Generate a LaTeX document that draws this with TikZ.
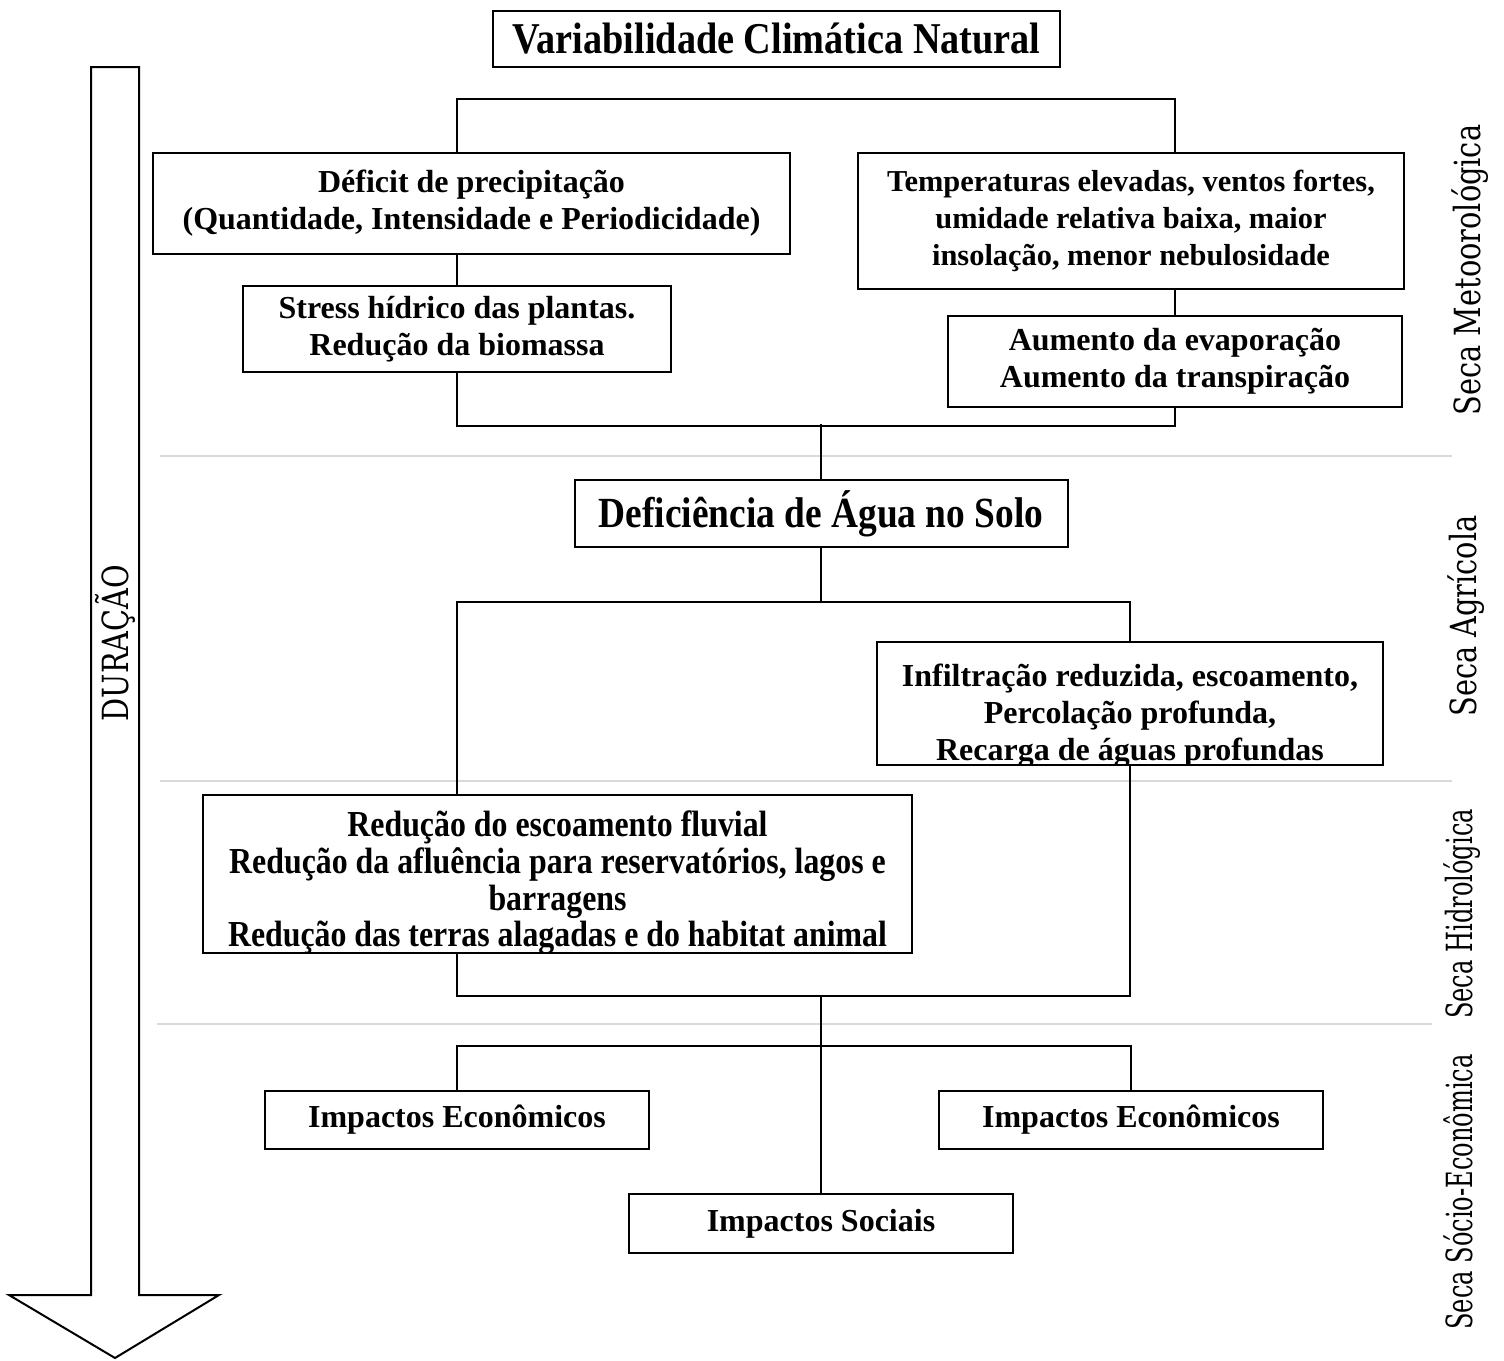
\documentclass[tikz,border=0pt]{standalone}
\usepackage{fontspec}
\setmainfont{Liberation Serif}
\newfontfamily\narrowserif[FakeStretch=0.87]{Liberation Serif}
\newfontfamily\slabserif[FakeStretch=0.8]{DejaVu Serif}
\newfontfamily\slimslab[FakeStretch=0.67]{DejaVu Serif}
\usetikzlibrary{positioning}
\definecolor{Sep}{HTML}{D9D9D9}

\tikzset{
  box/.style={draw,line width=1pt,inner sep=0pt,align=center,font=\bfseries\fontsize{16}{18.5}\selectfont},
  boxw/.style={minimum width=#1*0.5pt},
  boxh/.style={minimum height=#1*0.5pt},
  bigtext/.style={font=\narrowserif\bfseries\fontsize{22}{24}\selectfont},
  link/.style={line width=1pt},
  sep/.style={draw=Sep,line width=1pt},
  side/.style={rotate=90,font=\slabserif\fontsize{18}{20}\selectfont},
  slimside/.style={side,font=\slimslab\fontsize{18}{20}\selectfont},
}

\begin{document}
\begin{tikzpicture}[x=0.5pt,y=-0.5pt]
  \useasboundingbox (0,0) rectangle (1504,1360);

  % separators between drought types
  \draw[sep] (160,456) -- (1452,456);
  \draw[sep] (160,781) -- (1452,781);
  \draw[sep] (157,1024) -- (1432,1024);

  % duration arrow
  \draw[line width=1pt] (91,67) -- (139,67) -- (139,1295) -- (219,1295) -- (115,1358)
    -- (9,1295) -- (91,1295) -- cycle;
  \node[side] (dur) at (115,643) {DURAÇÃO};

  % boxes
  \node[box,boxw=567,boxh=56,bigtext] (nat) at (776.5,39) {Variabilidade Climática Natural};
  \node[box,boxw=637,boxh=101] (prec) at (471.5,203.5) {Déficit de precipitação\\(Quantidade, Intensidade e Periodicidade)};
  \node[box,boxw=546,boxh=136,font=\bfseries\fontsize{15.2}{18.5}\selectfont] (temp) at (1131,221) {Temperaturas elevadas, ventos fortes,\\umidade relativa baixa, maior\\insolação, menor nebulosidade};
  \node[box,boxw=428,boxh=86] (stress) at (457,329) {Stress hídrico das plantas.\\Redução da biomassa};
  \node[box,boxw=454,boxh=91] (evap) at (1175,361.5) {Aumento da evaporação\\Aumento da transpiração};
  \node[box,boxw=493,boxh=67,font=\narrowserif\bfseries\fontsize{21.5}{24}\selectfont] (solo) at (821,513.5) {Deficiência de Água no Solo};
  \node[box,boxw=506,boxh=123,path picture={
    \node[align=center,inner sep=0pt,yshift=-6pt,font=\bfseries\fontsize{16}{18.5}\selectfont]
      at (path picture bounding box.center) {Infiltração reduzida, escoamento,\\Percolação profunda,\\Recarga de águas profundas};}] (infil) at (1130,703.5) {};
  \node[box,boxw=709,boxh=158,path picture={
    \node[align=center,inner sep=0pt,yshift=-4.5pt,font=\narrowserif\bfseries\fontsize{18.3}{18.3}\selectfont]
      at (path picture bounding box.center) {Redução do escoamento fluvial\\Redução da afluência para reservatórios, lagos e\\barragens\\Redução das terras alagadas e do habitat animal};}] (fluvial) at (557.5,874) {};
  \node[box,boxw=384,boxh=58] (econA) at (457,1120) {Impactos Econômicos};
  \node[box,boxw=384,boxh=58] (econB) at (1131,1120) {Impactos Econômicos};
  \node[box,boxw=384,boxh=59] (social) at (821,1223.5) {Impactos Sociais};

  % connectors
  \draw[link] (stress |- prec.north) -- ++(0,-53) -| (evap |- temp.north);
  \draw[link] (stress |- prec.south) -- (stress.north);
  \draw[link] (evap |- temp.south) -- (evap.north);
  \draw[link] (stress.south) -- ++(0,53) -| (evap.south);
  \draw[link] (solo.north) -- ++(0,-55);
  \draw[link] (solo.south) -- ++(0,54) coordinate (split);
  \draw[link] (stress |- fluvial.north) |- (infil |- split) -- (infil.north);
  \coordinate (join) at (821,996);
  \draw[link] (infil.south) |- (join) -| (stress |- fluvial.south);
  \draw[link] (join) -- (social.north);
  \draw[link] (econA.north) -- ++(0,-44) -| (econB.north);

  % drought types
  \node[side] (meteo) at (1470,270) {Seca Metoorológica};
  \node[side] (agri) at (1466,616) {Seca Agrícola};
  \node[slimside] (hidro) at (1462,914) {Seca Hidrológica};
  \node[slimside] (socio) at (1458,1192) {Seca Sócio-Econômica};
\end{tikzpicture}
\end{document}
